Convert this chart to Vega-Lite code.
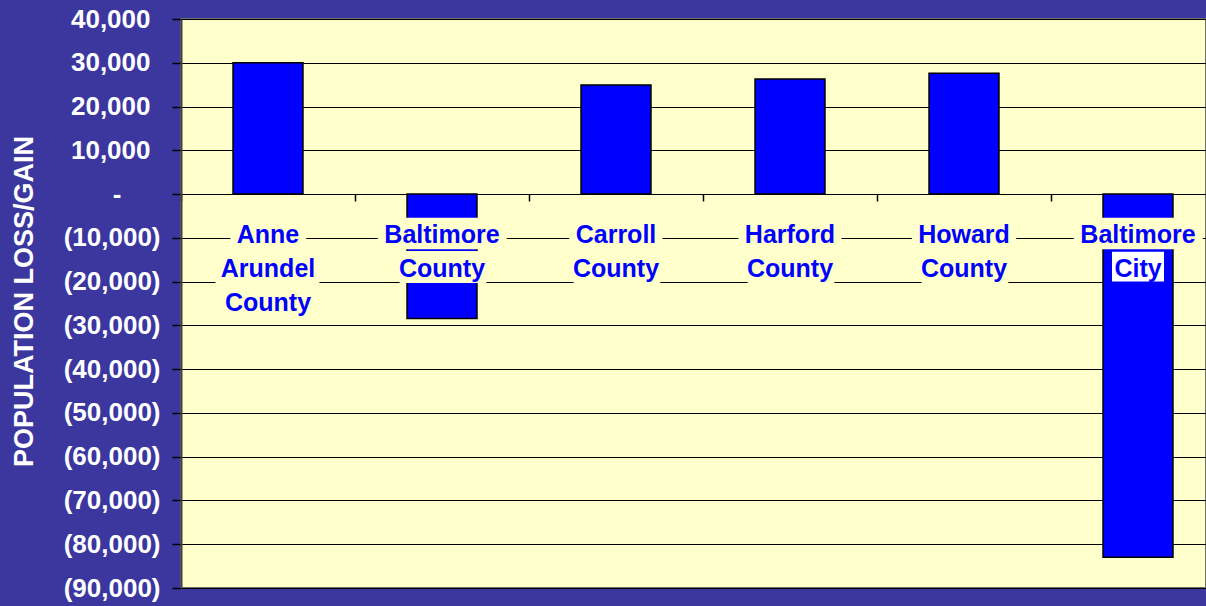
{
  "$schema": "https://vega.github.io/schema/vega-lite/v6.json",
  "autosize": {"type": "none"},
  "width": 1025,
  "height": 569,
  "padding": {"left": 181, "top": 19, "right": 0, "bottom": 18},
  "background": "#3B379F",
  "config": {
    "view": {"fill": "#FFFFCC", "stroke": "#707070", "strokeWidth": 2},
    "font": "Liberation Sans",
    "text": {"lineBreak": "\n"}
  },
  "data": {
    "values": [
      {"area": "Anne Arundel County", "label": "Anne\nArundel\nCounty", "change": 30000},
      {"area": "Baltimore County", "label": "Baltimore\nCounty", "change": -28400},
      {"area": "Carroll County", "label": "Carroll\nCounty", "change": 24900},
      {"area": "Harford County", "label": "Harford\nCounty", "change": 26300},
      {"area": "Howard County", "label": "Howard\nCounty", "change": 27600},
      {"area": "Baltimore City", "label": "Baltimore\nCity", "change": -83000}
    ]
  },
  "encoding": {
    "x": {
      "field": "area",
      "type": "nominal",
      "sort": null,
      "scale": {"range": [0, 1044], "paddingInner": 0.598, "paddingOuter": 0.299},
      "axis": {
        "orient": "bottom",
        "offset": -394,
        "title": null,
        "labels": false,
        "domainColor": "#000000",
        "domainWidth": 1,
        "tickColor": "#000000",
        "tickSize": 7,
        "tickWidth": 1.5,
        "bandPosition": -0.743,
        "grid": false
      }
    }
  },
  "layer": [
    {
      "mark": {
        "type": "text",
        "align": "center",
        "baseline": "alphabetic",
        "fontSize": 25,
        "fontWeight": "bold",
        "font": "Liberation Sans",
        "lineHeight": 34,
        "fill": "#FFFFCC",
        "stroke": "#FFFFCC",
        "strokeWidth": 16,
        "strokeJoin": "round"
      },
      "encoding": {
        "text": {"field": "label"},
        "y": {"datum": -11200, "type": "quantitative"}
      }
    },
    {
      "mark": {"type": "bar", "color": "#0000FF", "stroke": "#000000", "strokeWidth": 1.5},
      "encoding": {
        "y": {
          "field": "change",
          "type": "quantitative",
          "scale": {"domain": [-90000, 40000], "nice": false, "zero": false},
          "axis": {
            "title": "POPULATION LOSS/GAIN",
            "titleColor": "#FFFFFF",
            "titleFontSize": 27,
            "titleFontWeight": "bold",
            "titleFont": "Liberation Sans",
            "titleAngle": -90,
            "titleX": -149,
            "titleY": 282,
            "titleAlign": "center",
            "titleBaseline": "alphabetic",
            "values": [40000, 30000, 20000, 10000, 0, -10000, -20000, -30000, -40000, -50000, -60000, -70000, -80000, -90000],
            "labelExpr": "datum.value < 0 ? '(' + format(-datum.value, ',') + ')' : datum.value == 0 ? '-' : format(datum.value, ',')",
            "labelColor": "#FFFFFF",
            "labelFontSize": 26,
            "labelFontWeight": "bold",
            "labelFont": "Liberation Sans",
            "labelPadding": {"condition": [{"test": "datum.value > 0", "value": 22}, {"test": "datum.value == 0", "value": 51}], "value": 12},
            "labelOverlap": false,
            "labelBound": false,
            "labelFlush": false,
            "tickColor": "#000000",
            "tickSize": 9,
            "tickWidth": 1.5,
            "domainColor": "#404040",
            "domainWidth": 2,
            "grid": true,
            "gridColor": "#000000",
            "gridWidth": 1,
            "gridOpacity": 1
          }
        }
      }
    },
    {
      "transform": [{"filter": "datum.change < 0"}],
      "mark": {"type": "bar", "fill": "#FFFFCC", "stroke": null, "width": 74},
      "encoding": {
        "y": {"datum": -5400, "type": "quantitative"},
        "y2": {"datum": -12600}
      }
    },
    {
      "transform": [{"filter": "datum.area == 'Baltimore County'"}],
      "mark": {"type": "bar", "fill": "#FFFFCC", "stroke": null, "width": 74},
      "encoding": {
        "y": {"datum": -13000, "type": "quantitative"},
        "y2": {"datum": -20300}
      }
    },
    {
      "transform": [{"filter": "datum.area == 'Baltimore City'"}],
      "mark": {"type": "bar", "fill": "#FFFFFF", "stroke": null, "width": 52},
      "encoding": {
        "y": {"datum": -13200, "type": "quantitative"},
        "y2": {"datum": -20000}
      }
    },
    {
      "mark": {
        "type": "text",
        "align": "center",
        "baseline": "alphabetic",
        "fontSize": 25,
        "fontWeight": "bold",
        "font": "Liberation Sans",
        "lineHeight": 34,
        "fill": "#0000FF"
      },
      "encoding": {
        "text": {"field": "label"},
        "y": {"datum": -11200, "type": "quantitative"}
      }
    }
  ]
}
